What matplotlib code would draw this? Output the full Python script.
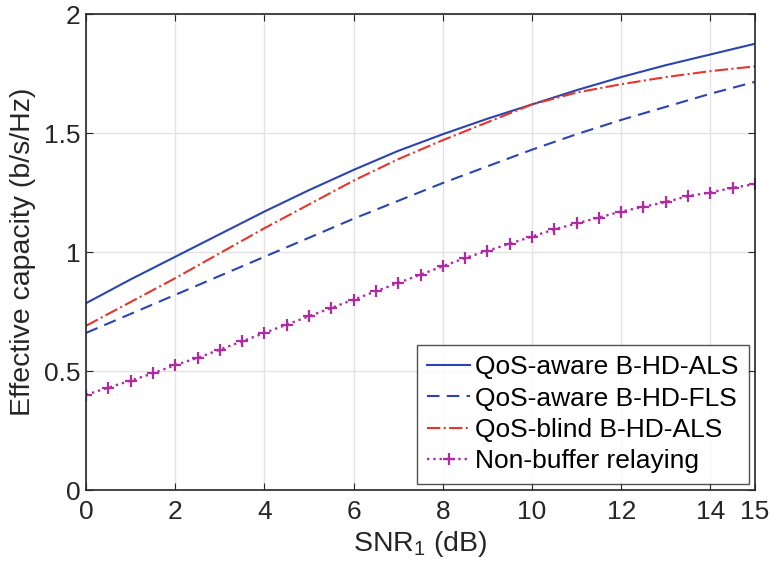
import numpy as np
import matplotlib.pyplot as plt

plt.rcParams['font.family'] = ['Liberation Sans', 'DejaVu Sans']
plt.rcParams['mathtext.fontset'] = 'custom'
plt.rcParams['mathtext.rm'] = 'Liberation Sans'
plt.rcParams['mathtext.it'] = 'Liberation Sans:italic'

snr = [0, 1, 2, 3, 4, 5, 6, 7, 8, 9, 10, 11, 12, 13, 14, 15]
aware_als = [0.785, 0.885, 0.98, 1.075, 1.17, 1.26, 1.345, 1.425, 1.495, 1.56,
             1.62, 1.68, 1.735, 1.785, 1.83, 1.875]
aware_fls = [0.66, 0.74, 0.82, 0.90, 0.98, 1.06, 1.14, 1.215, 1.29, 1.36,
             1.43, 1.495, 1.555, 1.61, 1.665, 1.715]
blind_als = [0.69, 0.79, 0.89, 0.995, 1.10, 1.20, 1.30, 1.39, 1.47, 1.545,
             1.62, 1.67, 1.705, 1.735, 1.76, 1.78]

snr_nb = [0, 0.5, 1, 1.5, 2, 2.5, 3, 3.5, 4, 4.5, 5, 5.5, 6, 6.5, 7, 7.5, 8,
          8.5, 9, 9.5, 10, 10.5, 11, 11.5, 12, 12.5, 13, 13.5, 14, 14.5, 15]
non_buffer = [0.40, 0.43, 0.46, 0.49, 0.525, 0.555, 0.59, 0.625, 0.66, 0.695,
              0.73, 0.765, 0.80, 0.835, 0.87, 0.905, 0.94, 0.975, 1.005, 1.035,
              1.065, 1.095, 1.12, 1.145, 1.17, 1.19, 1.21, 1.235, 1.25, 1.27, 1.285]

xticks = [0, 2, 4, 6, 8, 10, 12, 14, 15]
yticks = [0, 0.5, 1, 1.5, 2]

fig = plt.figure(figsize=(7.73, 5.79), dpi=100)
ax = fig.add_axes([0.1113, 0.1537, 0.8654, 0.8221])

ax.plot(snr, aware_als, '-', color='#2b45b0', lw=1.5, label='QoS-aware B-HD-ALS')
ax.plot(snr, aware_fls, '--', color='#2b45b0', lw=1.5, dashes=(6, 3.5), label='QoS-aware B-HD-FLS')
ax.plot(snr, blind_als, '-.', color='#e6352b', lw=1.5, label='QoS-blind B-HD-ALS')
ax.plot(snr_nb, non_buffer, ':', color='#b02aa4', lw=1.7, marker='+', ms=8, mew=1.6,
        label='Non-buffer relaying')

ax.set_xlim(0, 15)
ax.set_ylim(0, 2)
ax.set_xticks(xticks)
ax.set_yticks(yticks)
ax.set_yticklabels(['0', '0.5', '1', '1.5', '2'])
ax.grid(True, color='#e3e3e3', lw=1)
ax.set_axisbelow(True)
ax.tick_params(direction='in', length=5, labelsize=19, top=True, right=True,
               colors='#262626')
ax.tick_params(axis='x', pad=7)
ax.tick_params(axis='y', pad=4)
for s in ax.spines.values():
    s.set_color('#262626')
    s.set_linewidth(1.2)

ax.set_xlabel('SNR$_1$ (dB)', fontsize=20.5, color='#262626', labelpad=4)
ax.set_ylabel('Effective capacity (b/s/Hz)', fontsize=20.5, color='#262626', labelpad=6)

leg = ax.legend(loc='lower right', fontsize=19, frameon=True, fancybox=False,
                edgecolor='#262626', borderaxespad=0.23, handlelength=1.6,
                handletextpad=0.2, labelspacing=0.28, borderpad=0.4)
leg.get_frame().set_linewidth(1.0)

fig.savefig('out.png', dpi=100)
